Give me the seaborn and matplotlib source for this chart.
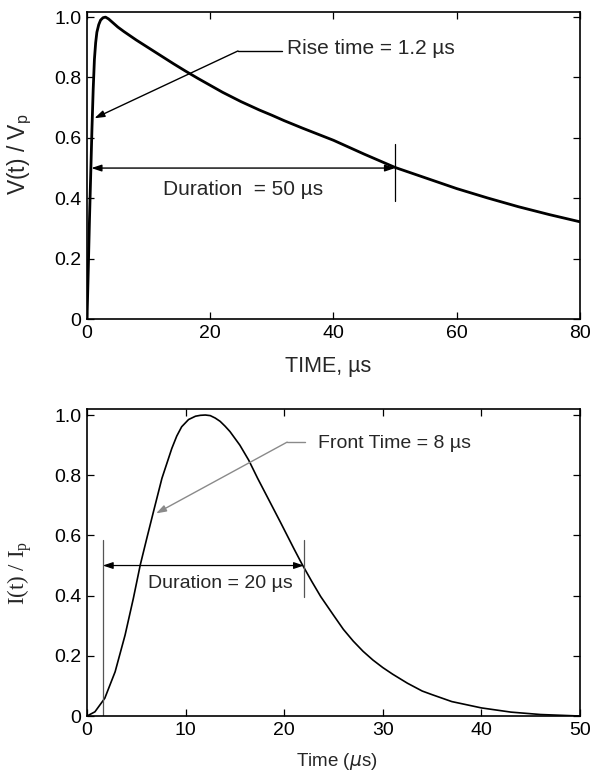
import numpy as np
import matplotlib.pyplot as plt
import seaborn as sns
import pandas as pd

# Voltage impulse (1.2/50)
v_time = [0, 0.2, 0.4, 0.6, 0.8, 1.0, 1.2, 1.4, 1.6, 1.9, 2.2, 2.6, 3.0, 3.5, 4, 5,
          6, 8, 10, 12, 14, 16, 18, 20, 22, 25, 28, 30, 32, 35, 40, 45, 50, 55, 60,
          65, 70, 75, 80]
v_norm = [0, 0.16, 0.33, 0.48, 0.63, 0.76, 0.86, 0.915, 0.95, 0.975, 0.99, 0.998,
          1.0, 0.994, 0.985, 0.967, 0.952, 0.924, 0.898, 0.872, 0.846, 0.821,
          0.797, 0.774, 0.751, 0.72, 0.692, 0.675, 0.657, 0.632, 0.592, 0.546,
          0.502, 0.467, 0.432, 0.401, 0.372, 0.346, 0.322]

# Current impulse (8/20)
i_time = [0, 0.8, 1.8, 2.85, 3.86, 4.7, 5.4, 6.06, 6.74, 7.6, 8.6, 9.1, 9.6, 10.3,
          11, 11.5, 12, 12.5, 13, 13.5, 14, 14.5, 15.5, 16.4, 17.3, 18.3, 19.6, 21,
          21.8, 22.8, 23.7, 25, 26, 27, 28, 29, 30, 31, 32.5, 34, 35, 37, 40, 43,
          46, 50]
i_norm = [0, 0.014, 0.059, 0.147, 0.269, 0.391, 0.502, 0.59, 0.679, 0.79, 0.889,
          0.93, 0.961, 0.985, 0.996, 0.999, 1.0, 0.998, 0.99, 0.979, 0.963, 0.945,
          0.90, 0.85, 0.79, 0.727, 0.645, 0.555, 0.505, 0.447, 0.397, 0.335,
          0.288, 0.249, 0.215, 0.186, 0.161, 0.139, 0.109, 0.083, 0.071, 0.048,
          0.027, 0.013, 0.005, 0.0]

sns.set_style("ticks")
plt.rcParams['font.family'] = ['Liberation Sans', 'DejaVu Sans']

fig = plt.figure(figsize=(5.9, 7.73), dpi=100)
ax1 = fig.add_axes([0.1475, 0.5873, 0.8355, 0.3972])
ax2 = fig.add_axes([0.1475, 0.0737, 0.8355, 0.3972])

fs = 15
tick_fs = 14

# ---- top: voltage ----
df_v = pd.DataFrame({"t": v_time, "v": v_norm})
sns.lineplot(data=df_v, x="t", y="v", ax=ax1, color="black", lw=2.0)
ax1.set_xlim(0, 80)
ax1.set_ylim(0, 1.017)
ax1.set_xticks([0, 20, 40, 60, 80])
ax1.set_yticks([0, 0.2, 0.4, 0.6, 0.8, 1.0])
ax1.set_yticklabels(["0", "0.2", "0.4", "0.6", "0.8", "1.0"])
ax1.set_xlabel("TIME, µs", fontsize=fs + 0.5)
ax1.set_ylabel(r"V(t) / V$\mathregular{_p}$", fontsize=16.5)
ax1.xaxis.set_label_coords(0.49, -0.122)
ax1.yaxis.set_label_coords(-0.107, 0.537)

# rise time leader
ax1.plot([24.5, 31.6], [0.888, 0.888], color="black", lw=1.0)
ax1.annotate("", xy=(1.2, 0.665), xytext=(24.5, 0.888),
             arrowprops=dict(arrowstyle="-|>,head_length=0.6,head_width=0.2",
                             color="black", lw=1.0, shrinkA=0, shrinkB=0))
ax1.text(32.5, 0.895, "Rise time = 1.2 µs", fontsize=fs, va="center")

# duration
ax1.annotate("", xy=(0.7, 0.5), xytext=(50, 0.5),
             arrowprops=dict(arrowstyle="<|-|>,head_length=0.6,head_width=0.2",
                             color="black", lw=1.0, shrinkA=0, shrinkB=0))
ax1.plot([50, 50], [0.39, 0.58], color="black", lw=0.9)
ax1.text(12.3, 0.43, "Duration  = 50 µs", fontsize=fs, va="center")

# ---- bottom: current ----
df_i = pd.DataFrame({"t": i_time, "i": i_norm})
sns.lineplot(data=df_i, x="t", y="i", ax=ax2, color="black", lw=1.2)
ax2.set_xlim(0, 50)
ax2.set_ylim(0, 1.02)
ax2.set_xticks([0, 10, 20, 30, 40, 50])
ax2.set_yticks([0, 0.2, 0.4, 0.6, 0.8, 1.0])
ax2.set_yticklabels(["0", "0.2", "0.4", "0.6", "0.8", "1.0"])
ax2.set_xlabel(r"Time ($\mu$s)", fontsize=13.5)
ax2.set_ylabel(r"I(t) / I$\mathregular{_p}$", fontsize=16.5,
               family=["Liberation Serif", "DejaVu Serif"])
ax2.xaxis.set_label_coords(0.507, -0.115)
ax2.yaxis.set_label_coords(-0.107, 0.466)

# front time leader (gray)
ax2.plot([20.3, 22.1], [0.91, 0.91], color="#8a8a8a", lw=1.0)
ax2.annotate("", xy=(7.0, 0.673), xytext=(20.3, 0.91),
             arrowprops=dict(arrowstyle="-|>,head_length=0.6,head_width=0.2",
                             color="#8a8a8a", lw=1.0, shrinkA=0, shrinkB=0))
ax2.text(23.4, 0.905, "Front Time = 8 µs", fontsize=14, va="center")

# duration
ax2.annotate("", xy=(1.6, 0.5), xytext=(22, 0.5),
             arrowprops=dict(arrowstyle="<|-|>,head_length=0.6,head_width=0.2",
                             color="black", lw=0.9, shrinkA=0, shrinkB=0))
ax2.plot([1.6, 1.6], [0.0, 0.585], color="#555555", lw=0.9)
ax2.plot([22, 22], [0.395, 0.585], color="#555555", lw=0.9)
ax2.text(6.2, 0.44, "Duration = 20 µs", fontsize=14, va="center")

for ax in (ax1, ax2):
    for s in ax.spines.values():
        s.set_visible(True)
        s.set_color("black")
        s.set_linewidth(1.2)
    ax.tick_params(direction="in", top=True, right=True, length=5, width=0.9,
                   labelsize=tick_fs, pad=4, colors="black")

fig.savefig("out.png", dpi=100)
